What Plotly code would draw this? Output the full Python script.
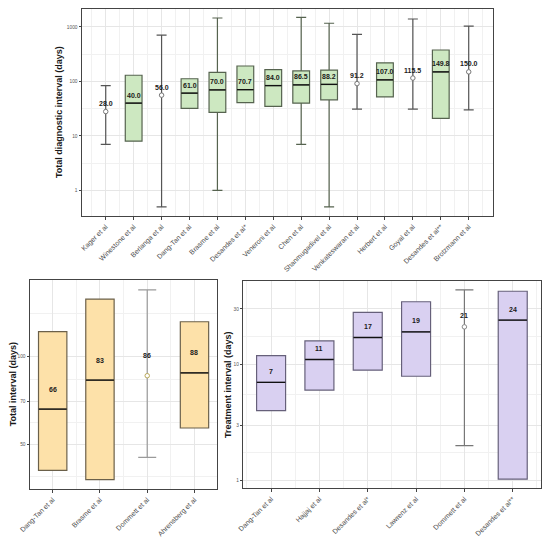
import numpy as np
import plotly.graph_objects as go

# ---------------- data ----------------
diag_studies = ["Kager et al", "Winestone et al", "Berlanga et al", "Dang-Tan et al",
                "Brasme et al", "Desandes et al*", "Veneroni et al", "Chen et al",
                "Shanmugadivel et al", "Venkateswaran et al", "Herbert et al",
                "Goyal et al", "Desandes et al**", "Brotzmann et al"]
diag_median = [28.0, 40.0, 56.0, 61.0, 70.0, 70.7, 84.0, 86.5, 88.2, 91.2, 107.0, 115.5, 149.8, 150.0]
diag_q1 = [None, 8, None, 32, 27, 41, 35, 40, 46, None, 52, None, 21, None]
diag_q3 = [None, 130, None, 112, 147, 192, 165, 156, 162, None, 220, None, 378, None]
diag_min = [7, None, 0.5, None, 1, None, None, 7, 0.5, 31, None, 31, None, 30]
diag_max = [84, None, 710, None, 1460, None, None, 1500, 1170, 730, None, 1400, None, 1040]

total_studies = ["Dang-Tan et al", "Brasme et al", "Dommett et al", "Ahrensberg et al"]
total_median = [66, 83, 86, 88]
total_q1 = [40.6, 37.7, None, 56.8]
total_q3 = [122, 158, None, 132]
total_min = [None, None, 45, None]
total_max = [None, None, 170, None]

treat_studies = ["Dang-Tan et al", "Hajjaj et al", "Desandes et al*", "Lawrenz et al",
                 "Dommett et al", "Desandes et al**"]
treat_median = [7, 11, 17, 19, 21, 24]
treat_q1 = [4.0, 6.0, 8.9, 7.9, None, 1.03]
treat_q3 = [11.9, 15.9, 28, 34.5, None, 42.5]
treat_min = [None, None, None, None, 2, None]
treat_max = [None, None, None, None, 43.7, None]

FONT = "Liberation Sans, Arial, sans-serif"
W, H = 542, 532  # page places the figure at an 8px offset


def dx(p0, p1):
    return [(p0 - 8) / W, (p1 - 8) / W]


def dy(top, bottom):
    return [max(0.0, 1 - (bottom - 8) / H), min(1.0, 1 - (top - 8) / H)]


fig = go.Figure()


def add_panel(xa, ya, studies, med, q1, q3, lo, hi, fill, outline, wcolor, mcolor,
              capw, fmt, yshift, medw):
    xref = "x" if xa == "" else "x" + xa
    yref = "y" if ya == "" else "y" + ya
    bx, bq1, bmed, bq3, blo, bhi = [], [], [], [], [], []
    for i in range(len(studies)):
        if q1[i] is not None:
            bx.append(i)
            bq1.append(q1[i]); bq3.append(q3[i]); bmed.append(med[i])
            blo.append(lo[i] if lo[i] is not None else q1[i])
            bhi.append(hi[i] if hi[i] is not None else q3[i])
    fig.add_trace(go.Box(x=bx, q1=bq1, median=bmed, q3=bq3, lowerfence=blo, upperfence=bhi,
                         width=0.6, whiskerwidth=0.6, fillcolor=fill,
                         line=dict(color=outline, width=1.2), boxpoints=False,
                         xaxis=xref, yaxis=yref, showlegend=False, hoverinfo="skip"))
    # darker median bars on top of the boxes (line-ew length is 1.4 x size)
    fig.add_trace(go.Scatter(x=bx, y=bmed, mode="markers",
                             marker=dict(symbol="line-ew", size=medw / 1.4,
                                         line=dict(color="#111111", width=1.3)),
                             xaxis=xref, yaxis=yref, showlegend=False, hoverinfo="skip"))
    px, py, eu, el = [], [], [], []
    for i in range(len(studies)):
        if q1[i] is None:
            px.append(i); py.append(med[i])
            eu.append(hi[i] - med[i]); el.append(med[i] - lo[i])
    fig.add_trace(go.Scatter(x=px, y=py, mode="markers",
                             marker=dict(symbol="circle", size=4.5, color="white",
                                         line=dict(color=mcolor, width=1)),
                             error_y=dict(type="data", symmetric=False, array=eu, arrayminus=el,
                                          color=wcolor, thickness=1.2, width=capw),
                             xaxis=xref, yaxis=yref, showlegend=False, hoverinfo="skip"))
    for i in range(len(studies)):
        fig.add_annotation(x=i, y=np.log10(med[i]), xref=xref, yref=yref,
                           text="<b>" + fmt.format(med[i]) + "</b>", showarrow=False,
                           yshift=yshift, font=dict(family=FONT, size=7, color="#1a1a1a"))


add_panel("", "", diag_studies, diag_median, diag_q1, diag_q3, diag_min, diag_max,
          "#CDE8C1", "#56634f", "#555555", "#777777", 5, "{:.1f}", 8, 16.5)
add_panel("2", "2", total_studies, total_median, total_q1, total_q3, total_min, total_max,
          "#FDE1A9", "#6b604a", "#9a9a9a", "#b8a85a", 9, "{:.0f}", 20, 28)
add_panel("3", "3", treat_studies, treat_median, treat_q1, treat_q3, treat_min, treat_max,
          "#D9D0F1", "#66607a", "#777777", "#888888", 9, "{:.0f}", 11, 28.5)

grid_major = "#e6e6e6"
grid_minor = "#f1f1f1"
axis_line = "#444444"
tickfont = dict(family=FONT, size=4.8, color="#555555")
xtickfont = dict(family=FONT, size=7, color="#4d4d4d")


def xaxis(domain, studies, rng, anchor):
    n = len(studies)
    return dict(domain=domain, anchor=anchor, range=rng, tickmode="array", automargin=False,
                tickvals=list(range(n)), ticktext=studies, tickangle=-45,
                tickfont=xtickfont, showgrid=True, gridcolor=grid_major, gridwidth=1,
                minor=dict(tickmode="array", tickvals=[i + 0.5 for i in range(-1, n)],
                           showgrid=True, gridcolor=grid_minor, gridwidth=0.8),
                ticks="outside", ticklen=3, tickcolor=axis_line,
                showline=True, linecolor=axis_line, linewidth=1, mirror=True, zeroline=False)


def yaxis(domain, rng, tv, mv, anchor):
    return dict(domain=domain, anchor=anchor, type="log", range=rng, tickmode="array",
                automargin=False,
                tickvals=tv, ticktext=[str(v) for v in tv], tickfont=tickfont,
                showgrid=True, gridcolor=grid_major, gridwidth=1,
                minor=dict(tickmode="array", tickvals=mv, showgrid=True,
                           gridcolor=grid_minor, gridwidth=0.8),
                ticks="outside", ticklen=2.5, tickcolor=axis_line,
                showline=True, linecolor=axis_line, linewidth=1, mirror=True, zeroline=False)


fig.update_layout(
    width=W, height=H, margin=dict(l=0, r=0, t=0, b=0, autoexpand=False),
    paper_bgcolor="white", plot_bgcolor="white", boxmode="overlay",
    font=dict(family=FONT),
    xaxis=xaxis(dx(82, 493), diag_studies, [-0.85, 13.87], "y"),
    yaxis=yaxis(dy(9, 216), [-0.47, 3.33], [1, 10, 100, 1000],
                [3.162, 31.62, 316.2], "x"),
    xaxis2=xaxis(dx(30, 216.7), total_studies, [-0.48, 3.47], "y2"),
    yaxis2=yaxis(dy(280, 489), [1.544, 2.2645], [50, 70, 100],
                 [38.7, 59.2, 83.7, 141.4], "x2"),
    xaxis3=xaxis(dx(243.3, 541), treat_studies, [-0.575, 5.585], "y3"),
    yaxis3=yaxis(dy(280.7, 488.3), [-0.066, 1.719], [1, 3, 10, 30],
                 [1.73, 5.48, 17.3], "x3"),
)

titles = [("Total diagnostic interval (days)", 59, 112),
          ("Total interval (days)", 12.8, 384.5),
          ("Treatment interval (days)", 228, 385)]
for t, xp, yp in titles:
    fig.add_annotation(text="<b>" + t + "</b>", x=(xp - 8) / W, y=1 - (yp - 8) / H,
                       xref="paper", yref="paper", xanchor="center", yanchor="middle",
                       textangle=-90, showarrow=False,
                       font=dict(family=FONT, size=9, color="#1a1a1a"))

fig.write_html("out.html")
